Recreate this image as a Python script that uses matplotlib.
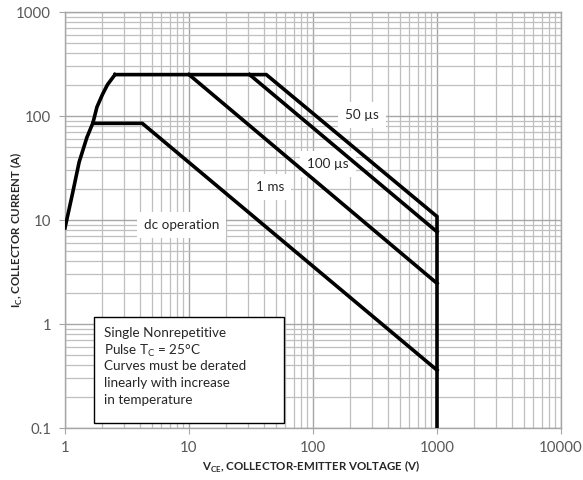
import matplotlib
matplotlib.use("Agg")
import matplotlib.pyplot as plt
from matplotlib.ticker import LogLocator, NullFormatter, FixedLocator, FixedFormatter

plt.rcParams['font.family'] = ['Lato', 'DejaVu Sans']

# Safe operating area boundaries (VCE in V, IC in A)
rise_v = [1.0, 1.15, 1.3, 1.5, 1.68, 1.81, 2.0, 2.2, 2.53]
rise_i = [8.4, 18.0, 36.0, 62.0, 86.0, 122.0, 160.0, 200.0, 250.0]

pulse_50us_v = [2.53, 42.0, 1000.0, 1000.0]
pulse_50us_i = [250.0, 250.0, 10.8, 0.1]

pulse_100us_v = [30.8, 1000.0]
pulse_100us_i = [250.0, 7.7]

pulse_1ms_v = [10.0, 1000.0]
pulse_1ms_i = [250.0, 2.46]

dc_v = [1.68, 4.2, 1000.0]
dc_i = [85.0, 85.0, 0.36]

x_ticks = [1, 10, 100, 1000, 10000]
x_labels = ["1", "10", "100", "1000", "10000"]
y_ticks = [0.1, 1, 10, 100, 1000]
y_labels = ["0.1", "1", "10", "100", "1000"]

curve_labels = ["50 µs", "100 µs", "1 ms", "dc operation"]
curve_label_pos = [(247, 102), (132, 34.5), (45, 20.7), (8.7, 9.0)]

note_lines = ["Single Nonrepetitive",
              "Pulse T$_\\mathregular{C}$ = 25°C",
              "Curves must be derated",
              "linearly with increase",
              "in temperature"]

fig = plt.figure(figsize=(5.83, 4.80), dpi=100)
ax = fig.add_axes([65 / 583, 1 - 428 / 480, (561 - 65) / 583, (428 - 12) / 480])
ax.set_xscale('log')
ax.set_yscale('log')
ax.set_xlim(1, 10000)
ax.set_ylim(0.1, 1000)

ax.xaxis.set_minor_locator(LogLocator(base=10, subs=range(2, 10)))
ax.yaxis.set_minor_locator(LogLocator(base=10, subs=range(2, 10)))
ax.xaxis.set_minor_formatter(NullFormatter())
ax.yaxis.set_minor_formatter(NullFormatter())
ax.xaxis.set_major_locator(FixedLocator(x_ticks))
ax.xaxis.set_major_formatter(FixedFormatter(x_labels))
ax.yaxis.set_major_locator(FixedLocator(y_ticks))
ax.yaxis.set_major_formatter(FixedFormatter(y_labels))
ax.grid(True, which='major', color='#a6a6a6', linewidth=1.0)
ax.grid(True, which='minor', color='#bfbfbf', linewidth=0.9)
ax.set_axisbelow(True)
ax.tick_params(which='major', length=4, color='#a6a6a6', labelsize=10.8, labelcolor='#595959')
ax.tick_params(which='minor', length=0)
ax.tick_params(axis='x', pad=5)
ax.tick_params(axis='y', pad=6)
for s in ax.spines.values():
    s.set_color('#a6a6a6')
    s.set_linewidth(1.0)

lw = 2.6
ax.plot(rise_v, rise_i, color='black', lw=lw, solid_joinstyle='round', zorder=3)
ax.plot(pulse_50us_v, pulse_50us_i, color='black', lw=lw, solid_joinstyle='miter', zorder=3)
ax.plot(pulse_100us_v, pulse_100us_i, color='black', lw=lw, zorder=3)
ax.plot(pulse_1ms_v, pulse_1ms_i, color='black', lw=lw, zorder=3)
ax.plot(dc_v, dc_i, color='black', lw=lw, zorder=3)

for text, (xv, yv) in zip(curve_labels, curve_label_pos):
    ax.text(xv, yv, text, ha='center', va='center', fontsize=9.7, color='#262626', zorder=2,
            bbox=dict(facecolor='white', edgecolor='none', pad=5))

# Note box, one line of text every 16.7 px
ax_w = 561 - 65
ax_h = 428 - 12
box_x0 = (94 - 65) / ax_w
box_y0 = (428 - 423) / ax_h
box_w = (284 - 94) / ax_w
box_h = (423 - 317) / ax_h
ax.add_patch(plt.Rectangle((box_x0, box_y0), box_w, box_h, transform=ax.transAxes,
                           facecolor='white', edgecolor='black', lw=1.0, zorder=4))
for k, line in enumerate(note_lines):
    y_px = 332 + 16.7 * k
    ax.text((104 - 65) / ax_w, (428 - y_px) / ax_h, line, transform=ax.transAxes,
            ha='left', va='center_baseline', fontsize=9.7, color='#262626', zorder=5)

ax.set_xlabel("V$_\\mathregular{CE}$, COLLECTOR-EMITTER VOLTAGE (V)", fontsize=8.3,
              fontweight='bold', color='#262626')
ax.set_ylabel("I$_\\mathregular{C}$, COLLECTOR CURRENT (A)", fontsize=8.3,
              fontweight='bold', color='#262626')
ax.xaxis.label.set_va('center')
ax.yaxis.label.set_va('center')
ax.xaxis.set_label_coords(0.497, -0.094)
ax.yaxis.set_label_coords(-0.097, 0.476)

fig.savefig("out.png", dpi=100, facecolor='white')
